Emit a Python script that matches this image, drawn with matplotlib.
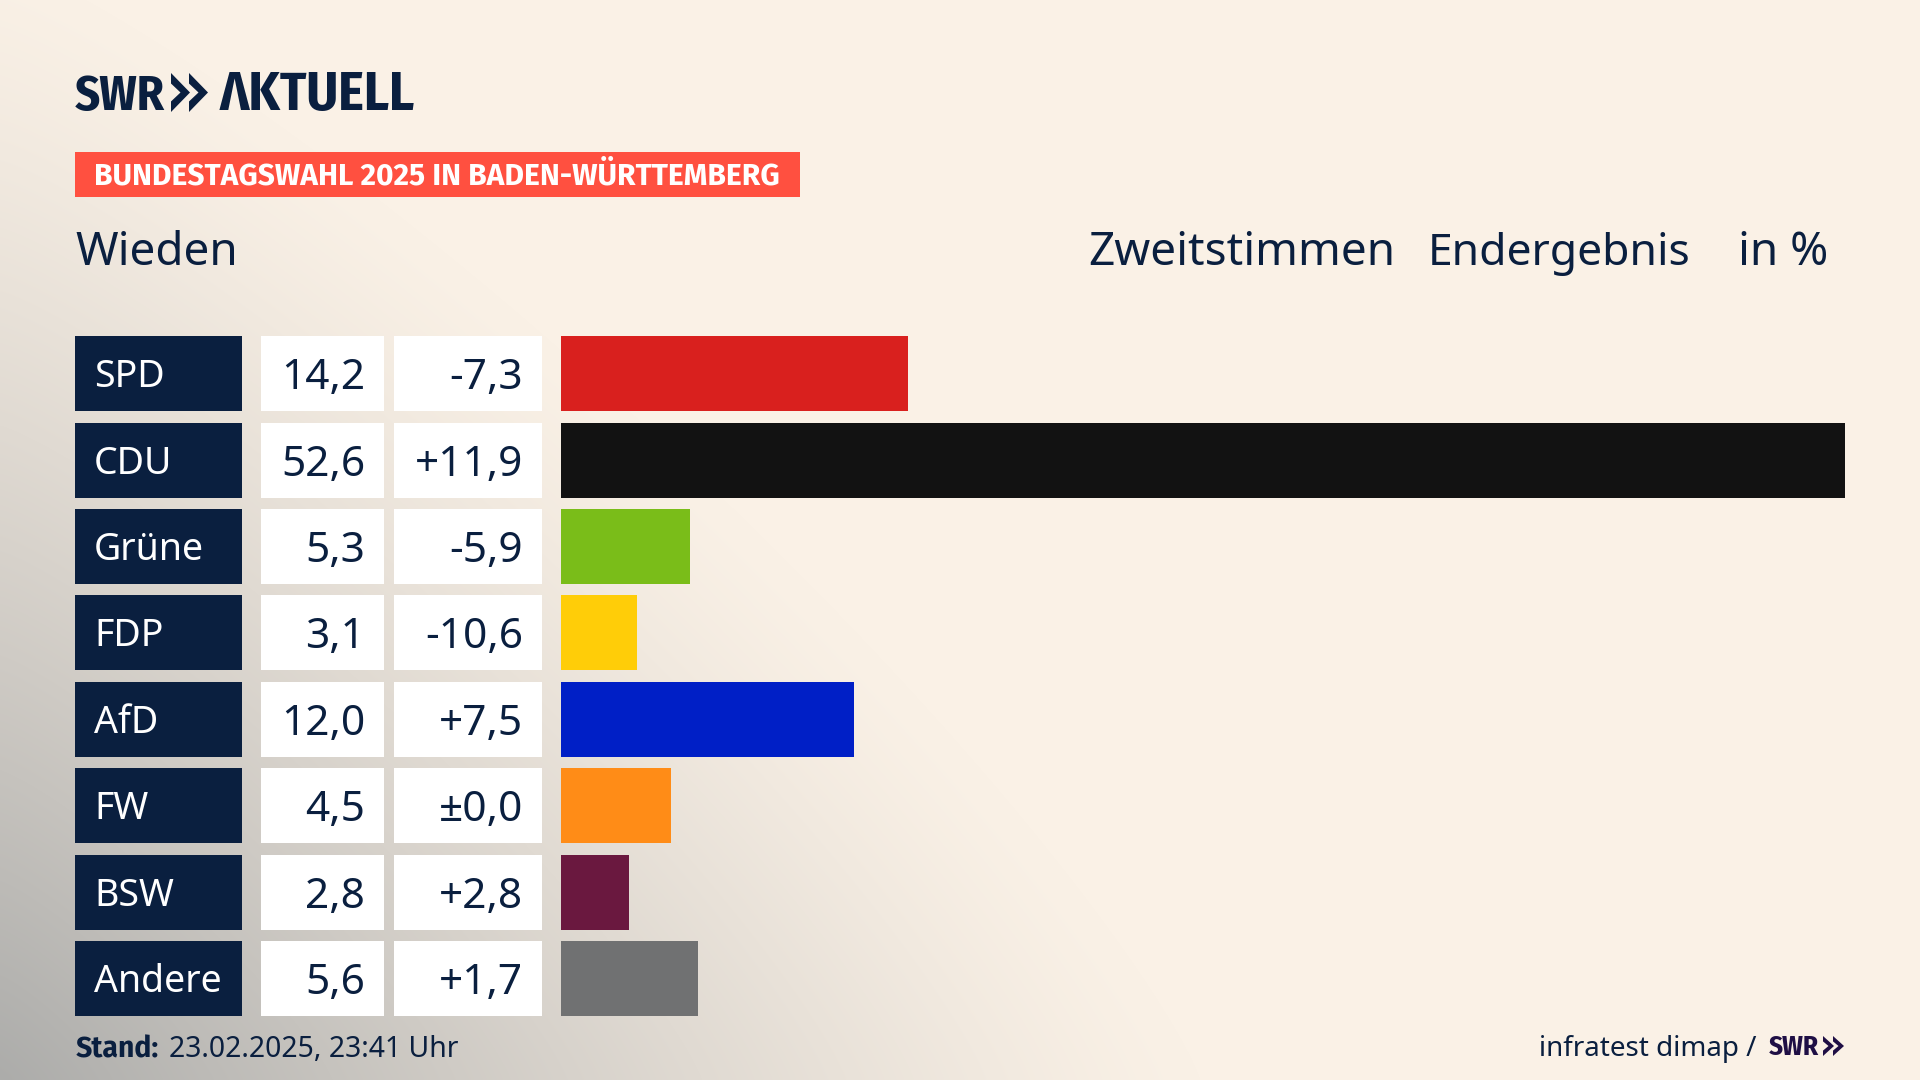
import matplotlib
matplotlib.use("Agg")
import matplotlib.pyplot as plt
import numpy as np
from matplotlib.patches import Polygon

W, H = 1920, 1080
NAVY = '#0a1f3f'
BG = np.array([250, 241, 230]) / 255
GREY = np.array([172, 172, 170]) / 255

parties = ['SPD', 'CDU', 'Grüne', 'FDP', 'AfD', 'FW', 'BSW', 'Andere']
shares = [14.2, 52.6, 5.3, 3.1, 12.0, 4.5, 2.8, 5.6]
changes = [-7.3, 11.9, -5.9, -10.6, 7.5, 0.0, 2.8, 1.7]
colors = ['#d9201e', '#121212', '#7abd19', '#ffcd08',
          '#001fc6', '#ff8c17', '#6a183f', '#707172']

plt.rcParams['font.family'] = ['Noto Sans', 'DejaVu Sans']

ROW_TOP, ROW_PITCH, ROW_H = 336.1, 86.42, 75
NAME_OFFSET = 13.5 / ROW_PITCH
VALUE_OFFSET = 15.5 / ROW_PITCH
CONDENSED = ['Fira Sans Condensed', 'Noto Sans']
BOLD = ['Fira Sans', 'Noto Sans']


def fmt_share(v):
    return '{:.1f}'.format(v).replace('.', ',')


def fmt_change(v):
    if v == 0:
        return '±' + fmt_share(0)
    return '{:+.1f}'.format(v).replace('.', ',')


def column_ax(fig, x0, x1):
    # one axes per table column, all sharing the same row scale
    top = ROW_TOP - (ROW_PITCH - ROW_H) / 2
    height = ROW_PITCH * len(parties)
    ax = fig.add_axes([x0 / W, 1 - (top + height) / H, (x1 - x0) / W, height / H])
    ax.set_ylim(len(parties) - 0.5, -0.5)
    ax.axis('off')
    return ax


def chevrons(ax, x, top, bottom, w, step, color):
    mid = (top + bottom) / 2
    cut = (bottom - top) * 0.27
    for x0 in (x, x + step):
        ax.add_patch(Polygon([(x0, top), (x0 + w, mid), (x0, bottom), (x0, bottom - cut),
                              (x0 + w * 0.5, mid), (x0, top + cut)], color=color, lw=0))


fig = plt.figure(figsize=(W / 100, H / 100), dpi=100)

# page background, grey glow out of the lower left corner
page = fig.add_axes([0, 0, 1, 1])
yy, xx = np.mgrid[0:H, 0:W]
d = ((xx / 1200) ** 1.2 + ((H - yy) / 1120) ** 1.2) ** (1 / 1.2)
glow = np.clip(1 - d, 0, 1)[..., None] ** 1.25
page.imshow(BG + (GREY - BG) * glow, extent=(0, W, H, 0), aspect='auto')
page.set_xlim(0, W)
page.set_ylim(H, 0)
page.axis('off')

# header
page.text(75, 110, 'SWR', fontsize=35, family=CONDENSED, weight='bold', color=NAVY)
chevrons(page, 171, 73, 112, 19, 18, NAVY)
page.text(220, 110, 'ΛKTUELL', fontsize=39, family=CONDENSED, weight='bold', color=NAVY)

page.fill_between([75, 800], 152, 197, color='#ff5040', lw=0)
page.text(94, 184.5, 'BUNDESTAGSWAHL 2025 IN BADEN-WÜRTTEMBERG',
          fontsize=21.6, family=BOLD, weight='bold', color='white')

page.text(75, 265, 'Wieden', fontsize=33, color=NAVY)
page.text(1088, 265, 'Zweitstimmen', fontsize=33, color=NAVY)
page.text(1428, 264.5, 'Endergebnis', fontsize=32, color=NAVY)
page.text(1738, 265, 'in %', fontsize=33, color=NAVY)

# table columns
rows = np.arange(len(parties))
ax_name = column_ax(fig, 75, 242)
ax_name.barh(rows, [1] * len(rows), height=ROW_H / ROW_PITCH, color=NAVY)
ax_name.set_xlim(0, 1)
ax_val = column_ax(fig, 261, 384)
ax_val.barh(rows, [1] * len(rows), height=ROW_H / ROW_PITCH, color='white')
ax_val.set_xlim(0, 1)
ax_diff = column_ax(fig, 394, 542)
ax_diff.barh(rows, [1] * len(rows), height=ROW_H / ROW_PITCH, color='white')
ax_diff.set_xlim(0, 1)

for i, party in enumerate(parties):
    ax_name.text(19 / 167, i + NAME_OFFSET, party, fontsize=27, color='white')
    ax_val.text(104 / 123, i + VALUE_OFFSET, fmt_share(shares[i]), fontsize=30.5,
                color=NAVY, ha='right')
    ax_diff.text(129 / 148, i + VALUE_OFFSET, fmt_change(changes[i]), fontsize=30.5,
                 color=NAVY, ha='right')

# bars
ax_bar = column_ax(fig, 561, 1845)
ax_bar.barh(rows, shares, height=ROW_H / ROW_PITCH, color=colors)
ax_bar.set_xlim(0, max(shares))

# footer
page.text(76, 1057, 'Stand:', fontsize=20.5, family=BOLD, weight='bold', color=NAVY)
page.text(169, 1057, '23.02.2025, 23:41 Uhr', fontsize=20.4, color=NAVY)
page.text(1539, 1056, 'infratest dimap /', fontsize=20, color=NAVY)
page.text(1769, 1055, 'SWR', fontsize=19.5, family=CONDENSED, weight='bold', color='#1f0f45')
chevrons(page, 1823, 1036, 1056, 11, 10, '#1f0f45')

fig.savefig('out.png', dpi=100)
